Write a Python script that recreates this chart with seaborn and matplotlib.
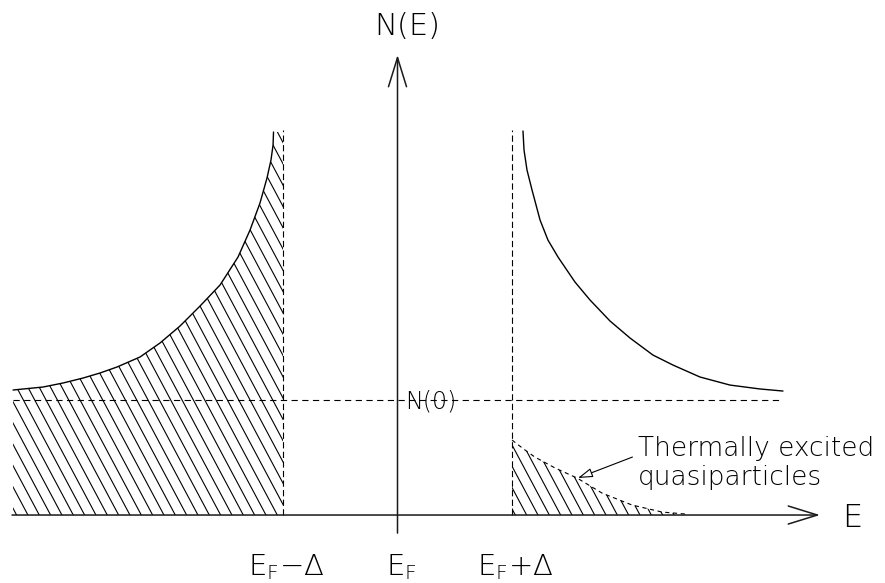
import numpy as np
import matplotlib
matplotlib.use("Agg")
import matplotlib.pyplot as plt
import seaborn as sns
from matplotlib.collections import LineCollection

# Energies in units of the gap, (E - E_F)/Δ ; densities in units of N(0)
occupied_E = [-3.358, -3.096, -2.921, -2.747, -2.598, -2.450, -2.249, -2.074,
              -1.900, -1.725, -1.550, -1.393, -1.288, -1.201, -1.140, -1.105,
              -1.087, -1.083]
occupied_N = [1.087, 1.113, 1.148, 1.191, 1.235, 1.287, 1.374, 1.496,
              1.643, 1.817, 2.000, 2.243, 2.478, 2.713, 2.930, 3.087,
              3.217, 3.330]

empty_E = [1.096, 1.105, 1.131, 1.175, 1.245, 1.314, 1.402, 1.550, 1.681,
           1.856, 2.031, 2.231, 2.406, 2.642, 2.904, 3.166, 3.367]
empty_N = [3.339, 3.174, 3.000, 2.826, 2.565, 2.391, 2.243, 2.026, 1.870,
           1.687, 1.539, 1.391, 1.304, 1.200, 1.130, 1.096, 1.078]

thermal_E = [1.0, 1.10, 1.20, 1.376, 1.568, 1.786, 2.048, 2.31, 2.51]
thermal_N = [0.652, 0.575, 0.504, 0.409, 0.322, 0.191, 0.087, 0.026, 0.009]

gap_edges = [-1.0, 1.0]
gap_edge_top = 3.35
normal_level = 1.0
normal_span = [-3.36, 3.37]

tick_pos = [-1.0, 0.0, 1.0]
tick_labels = [r"$\mathrm{E_F}$−Δ", r"$\mathrm{E_F}$", r"$\mathrm{E_F}$+Δ"]

sns.set_theme(style="white")
plt.rcParams["font.family"] = ["DejaVu Sans"]
plt.rcParams["font.weight"] = "light"
plt.rcParams["lines.scale_dashes"] = False
plt.rcParams["mathtext.fontset"] = "custom"
plt.rcParams["mathtext.rm"] = "DejaVu Sans:light"
plt.rcParams["mathtext.it"] = "DejaVu Sans:light"

fig = plt.figure(figsize=(8.85, 5.83), dpi=100)
ax = fig.add_axes([0, 0, 1, 1])
ax.set_xlim(-3.472, 4.258)
ax.set_ylim(-0.591, 4.478)
ax.axis("off")

ink = "black"
txt = dict(color=ink, fontweight="light")


def hatch(poly, step=0.099, slope=-1.87, lw=0.8):
    """Fill a polygon collection with steep parallel lines."""
    poly.set_facecolor("none")
    poly.set_edgecolor("none")
    path = poly.get_paths()[0]
    x0s = np.arange(-6.0, 6.0, step)
    segs = [[(x0 + (-1.0) / slope, -1.0), (x0 + 5.0 / slope, 5.0)] for x0 in x0s]
    lc = LineCollection(segs, colors=ink, linewidths=lw)
    ax.add_collection(lc)
    lc.set_clip_path(path, ax.transData)


# occupied states below the gap
occ_x = np.array(occupied_E + [gap_edges[0]])
occ_y = np.array(occupied_N + [occupied_N[-1]])
hatch(ax.fill_between(occ_x, 0, occ_y))

# thermally excited quasiparticles above the gap
hatch(ax.fill_between(np.array(thermal_E), 0, np.array(thermal_N)))

# density of states curves
sns.lineplot(x=occupied_E, y=occupied_N, sort=False, estimator=None,
             color=ink, linewidth=1.0, ax=ax)
sns.lineplot(x=empty_E, y=empty_N, sort=False, estimator=None,
             color=ink, linewidth=1.0, ax=ax)
ax.plot(thermal_E, thermal_N, color=ink, linewidth=0.8, dashes=(3.0, 2.6))

# gap edges and normal-state level
for xe in gap_edges:
    ax.plot([xe, xe], [0, gap_edge_top], color=ink, linewidth=0.8, dashes=(4.5, 2.4))
ax.plot(normal_span, [normal_level, normal_level], color=ink, linewidth=0.8,
        dashes=(4.5, 3.2))
ax.text(0.066, 0.93, "N(0)", fontsize=17, ha="left", va="baseline", **txt)

# axes with arrow heads
axis_arrow = dict(arrowstyle="->,head_length=2.1,head_width=0.65", color="#1a1a1a",
                  lw=1.1, shrinkA=0, shrinkB=0, mutation_scale=10)
ax.annotate("", xy=(3.69, 0), xytext=(-3.367, 0), arrowprops=axis_arrow)
ax.annotate("", xy=(0, 4.0), xytext=(0, -0.157), arrowprops=axis_arrow)
ax.text(3.882, -0.104, "E", fontsize=23, ha="left", va="baseline", **txt)
ax.text(0.083, 4.174, "N(E)", fontsize=22, ha="center", va="baseline", **txt)

for xp, lab in zip(tick_pos, tick_labels):
    ax.text(xp + 0.03, -0.522, lab, fontsize=21, ha="center", va="baseline", **txt)

# annotation for the thermal tail
ax.annotate("", xy=(1.576, 0.322), xytext=(2.052, 0.504),
            arrowprops=dict(arrowstyle="-|>,head_length=0.9,head_width=0.28",
                            facecolor="white", edgecolor=ink, lw=0.8,
                            shrinkA=0, shrinkB=0, mutation_scale=10))
ax.text(2.10, 0.513, "Thermally excited", fontsize=19, ha="left",
        va="baseline", **txt)
ax.text(2.10, 0.26, "quasiparticles", fontsize=19, ha="left",
        va="baseline", **txt)

fig.savefig("out.png", dpi=100, facecolor="white")
